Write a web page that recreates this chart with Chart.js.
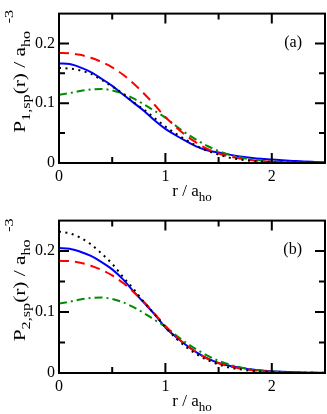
<!DOCTYPE html>
<html>
<head>
<meta charset="utf-8">
<script src="https://cdn.jsdelivr.net/npm/chart.js@4"></script>
<style>
	body { margin: 0; background: white; }
	canvas { display: block; }
</style>
</head>
<body>
<canvas id="panel-a" width="327" height="207"></canvas>
<canvas id="panel-b" width="327" height="207"></canvas>
<script>
// r / a_ho grid
const r = [0, 0.1, 0.2, 0.3, 0.4, 0.5, 0.6, 0.7, 0.8, 0.9, 1.0, 1.1, 1.2, 1.3, 1.4, 1.5, 1.6, 1.7, 1.8, 1.9, 2.0, 2.1, 2.2, 2.3, 2.4, 2.5];

// same red dashed and green dash-dot curves in both panels
const red_dashed = [0.184, 0.1835, 0.181, 0.176, 0.169, 0.160, 0.148, 0.133, 0.116, 0.097, 0.077, 0.060, 0.045, 0.033, 0.023, 0.016, 0.011, 0.0075, 0.005, 0.0032, 0.002, 0.0012, 0.0007, 0.0004, 0.0002, 0.0001];
const green_dashdot = [0.114, 0.117, 0.1205, 0.123, 0.1238, 0.1215, 0.116, 0.108, 0.098, 0.087, 0.076, 0.062, 0.049, 0.038, 0.028, 0.020, 0.014, 0.0095, 0.0062, 0.004, 0.0025, 0.0015, 0.0009, 0.0005, 0.0003, 0.0002];

// panel (a)
const blue_a = [0.1666, 0.1655, 0.160, 0.152, 0.141, 0.129, 0.115, 0.101, 0.087, 0.071, 0.057, 0.046, 0.036, 0.027, 0.021, 0.0175, 0.014, 0.011, 0.0088, 0.007, 0.0058, 0.0045, 0.0035, 0.0025, 0.0018, 0.0012];
const black_a = [0.159, 0.158, 0.155, 0.149, 0.139, 0.128, 0.116, 0.102, 0.089, 0.075, 0.061, 0.049, 0.038, 0.028, 0.020, 0.014, 0.009, 0.006, 0.0038, 0.0024, 0.0015, 0.0009, 0.0005, 0.0003, 0.0002, 0.0001];

// panel (b)
const blue_b = [0.205, 0.204, 0.199, 0.192, 0.182, 0.170, 0.154, 0.134, 0.115, 0.096, 0.0747, 0.059, 0.045, 0.033, 0.0235, 0.0164, 0.012, 0.0088, 0.006, 0.004, 0.003, 0.002, 0.0013, 0.0008, 0.0005, 0.0003];
const black_b = [0.232, 0.229, 0.222, 0.211, 0.196, 0.179, 0.158, 0.138, 0.116, 0.096, 0.075, 0.057, 0.042, 0.030, 0.021, 0.014, 0.009, 0.006, 0.0038, 0.0024, 0.0015, 0.0009, 0.0005, 0.0003, 0.0002, 0.0001];

const x_major = [0, 1, 2];
const x_minor = [0.5, 1.5];
const y_major = [0, 0.1, 0.2];
const y_minor = [0.05, 0.15];

const serif = "'Liberation Serif', 'DejaVu Serif', serif";

// text with sub/superscripts, parts = [[text, kind]], kind 0 normal, 1 sub, 2 sup, 3 gap
function set_font(ctx, k, big, small) {
	ctx.font = (k ? small : big) + "px " + serif;
}
function rich_width(ctx, parts, big, small) {
	let w = 0;
	for (const [t, k] of parts) {
		if (k == 3) { w += t; continue; }
		set_font(ctx, k, big, small);
		w += ctx.measureText(t).width;
	}
	return w;
}
function draw_rich(ctx, parts, x, y, big, small) {
	for (const [t, k] of parts) {
		if (k == 3) { x += t; continue; }
		set_font(ctx, k, big, small);
		const dy = k == 1 ? 5 : (k == 2 ? -12 : 0);
		ctx.fillText(t, x, y + dy);
		x += ctx.measureText(t).width;
	}
}

function pts(ys) {
	return r.map((x, i) => ({x: x, y: ys[i]}));
}

const frame_plugin = {
	id: "frame",
	afterDraw(chart, args, opts) {
		const ctx = chart.ctx;
		const a = chart.chartArea;
		const xs = chart.scales.x, ys = chart.scales.y;
		ctx.save();
		ctx.strokeStyle = "black";
		ctx.lineWidth = 2;
		ctx.strokeRect(a.left, a.top, a.right - a.left, a.bottom - a.top);
		ctx.beginPath();
		const tick = (vals, len) => {
			for (const v of vals) {
				const px = xs.getPixelForValue(v);
				ctx.moveTo(px, a.bottom); ctx.lineTo(px, a.bottom - len);
				ctx.moveTo(px, a.top); ctx.lineTo(px, a.top + len);
			}
		};
		const ytick = (vals, len) => {
			for (const v of vals) {
				const py = ys.getPixelForValue(v);
				ctx.moveTo(a.left, py); ctx.lineTo(a.left + len, py);
				ctx.moveTo(a.right, py); ctx.lineTo(a.right - len, py);
			}
		};
		tick(x_major, 10); tick(x_minor, 6);
		ytick(y_major, 10); ytick(y_minor, 6);
		ctx.stroke();

		ctx.fillStyle = "black";
		ctx.textBaseline = "alphabetic";
		ctx.textAlign = "left";
		// x title
		const xt = [["r / a", 0], ["ho", 1]];
		const xw = rich_width(ctx, xt, 17, 13);
		draw_rich(ctx, xt, (a.left + a.right) / 2 - xw / 2, a.bottom + 33, 17, 13);
		// y title, rotated and a bit stretched like the original
		const yt = [["P", 0], [opts.sub, 1], ["(r) / a", 0], ["ho", 1], [6, 3], ["-3", 2]];
		const yw = rich_width(ctx, yt, 17, 13);
		ctx.save();
		ctx.translate(25, (a.top + a.bottom) / 2 - 17);
		ctx.rotate(-Math.PI / 2);
		ctx.scale(1.25, 1);
		draw_rich(ctx, yt, -yw / 2, 0, 17, 13);
		ctx.restore();
		// panel label
		ctx.font = "16px " + serif;
		ctx.textAlign = "right";
		ctx.fillText(opts.label, a.right - 23, a.top + 33);
		ctx.restore();
	}
};

function panel_conf(blue, black, label, sub, pad_top, x_height) {
	return {type: "line",
		data: {
			datasets: [
				{data: pts(black), borderColor: "black", borderWidth: 2, borderDash: [2, 4.5]},
				{data: pts(red_dashed), borderColor: "#ff0000", borderWidth: 2, borderDash: [10, 6]},
				{data: pts(green_dashdot), borderColor: "#008b00", borderWidth: 2, borderDash: [8, 4, 2, 4]},
				{data: pts(blue), borderColor: "#0000ff", borderWidth: 2}
			]
		},
		options: {
			responsive: false,
			animation: false,
			devicePixelRatio: 1,
			layout: {padding: {left: 0, right: 2, top: pad_top, bottom: 0}},
			elements: {
				point: {radius: 0},
				line: {cubicInterpolationMode: "monotone", fill: false}
			},
			scales: {
				x: {
					type: "linear",
					min: 0,
					max: 2.5,
					grid: {display: false, drawTicks: false},
					border: {display: false},
					afterFit: (s) => { s.height = x_height; },
					afterBuildTicks: (s) => { s.ticks = x_major.map(v => ({value: v})); },
					ticks: {
						color: "black",
						padding: 4,
						maxRotation: 0,
						font: {family: serif, size: 16},
						callback: (v) => String(v)
					}
				},
				y: {
					type: "linear",
					min: 0,
					max: 0.25,
					grid: {display: false, drawTicks: false},
					border: {display: false},
					afterFit: (s) => { s.width = 59; },
					afterBuildTicks: (s) => { s.ticks = y_major.map(v => ({value: v})); },
					ticks: {
						color: "black",
						padding: 4,
						font: {family: serif, size: 16},
						callback: (v) => String(v)
					}
				}
			},
			plugins: {
				legend: {display: false},
				tooltip: {enabled: false},
				frame: {label: label, sub: sub}
			}
		},
		plugins: [frame_plugin]
	};
}

new Chart(document.getElementById("panel-a"), panel_conf(blue_a, black_a, "(a)", "1,sp", 2, 44));
new Chart(document.getElementById("panel-b"), panel_conf(blue_b, black_b, "(b)", "2,sp", 4, 41));
</script>
</body>
</html>
